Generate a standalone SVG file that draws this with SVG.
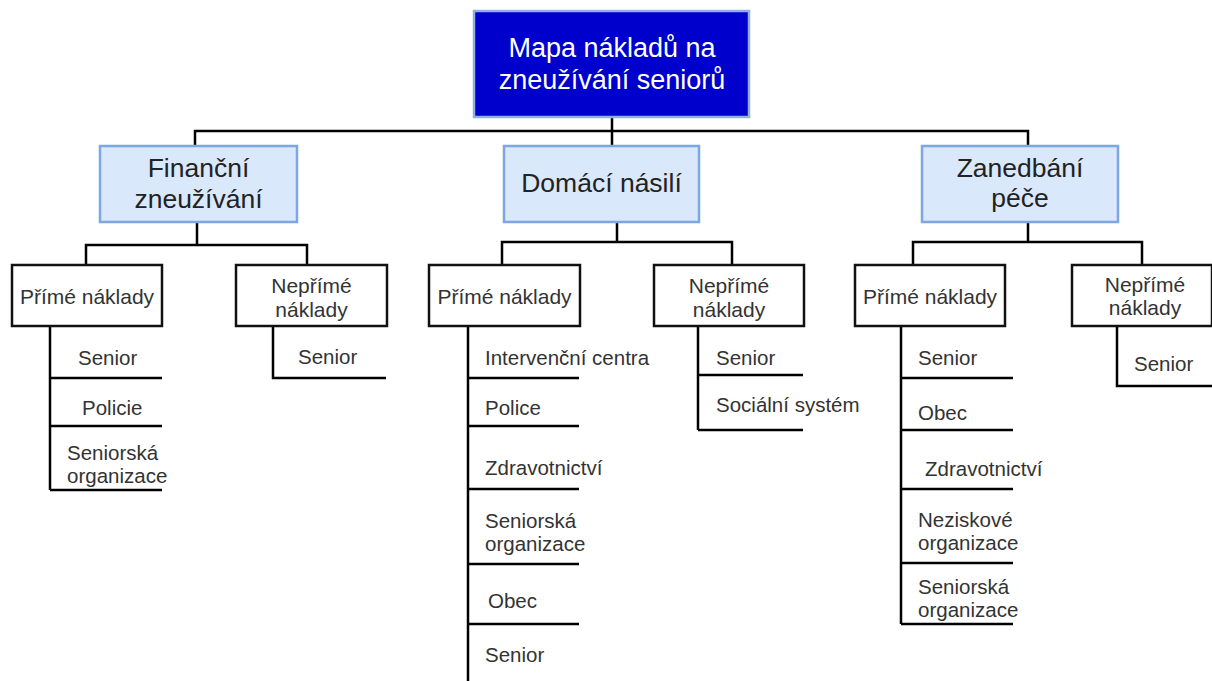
<svg xmlns="http://www.w3.org/2000/svg" width="1212" height="681" viewBox="0 0 1212 681">
<style>
text{font-family:"Liberation Sans",Arial,sans-serif;}
.root{fill:#0000CC;stroke:#8fb0e6;stroke-width:2.5;}
.rt{fill:#ffffff;font-size:27px;text-anchor:middle;}
.l1{fill:#dae8fc;stroke:#7ea6e0;stroke-width:2.5;}
.t1{fill:#222222;font-size:26.5px;text-anchor:middle;}
.l2{fill:#ffffff;stroke:#111111;stroke-width:2.5;}
.t2{fill:#333333;font-size:21px;text-anchor:middle;}
.lf{fill:#333333;font-size:20.5px;}
.c{fill:none;stroke:#000000;stroke-width:2.5;}
</style>
<rect width="1212" height="681" fill="#ffffff"/>
<g id="connectors">
<path class="c" d="M612 117V146M195 146V131H1028V146"/>
<path class="c" d="M197 222V245M86 265V245H307V265"/>
<path class="c" d="M617 222V242M502 265V242H732V265"/>
<path class="c" d="M1028 222V242M913 265V242H1142V265"/>
<path class="c" d="M50 326V490M50 378H162M50 426H162M50 490H162"/>
<path class="c" d="M273 326V378H386"/>
<path class="c" d="M468 326V681M468 378H579M468 426H579M468 489H579M468 564H579M468 624H579"/>
<path class="c" d="M698 326V430M698 375H803M698 430H803"/>
<path class="c" d="M901 326V624M901 378H1013M901 430H1013M901 489H1013M901 563H1013M901 624H1013"/>
<path class="c" d="M1117 326V386H1212"/>
</g>
<g id="root">
<rect class="root" x="474" y="11" width="275" height="106"/>
<text class="rt" x="612" y="57">Mapa nákladů na</text>
<text class="rt" x="612" y="89">zneužívání seniorů</text>
</g>
<g id="financni">
<rect class="l1" x="100" y="146" width="197" height="76"/>
<text class="t1" x="198.5" y="177">Finanční</text>
<text class="t1" x="198.5" y="208">zneužívání</text>
</g>
<g id="domaci">
<rect class="l1" x="504" y="146" width="195" height="76"/>
<text class="t1" x="601.5" y="192">Domácí násilí</text>
</g>
<g id="zanedbani">
<rect class="l1" x="922" y="146" width="196" height="76"/>
<text class="t1" x="1020" y="177">Zanedbání</text>
<text class="t1" x="1020" y="207">péče</text>
</g>
<g id="f-prime">
<rect class="l2" x="12" y="265" width="150" height="61"/>
<text class="t2" x="87" y="304">Přímé náklady</text>
</g>
<g id="f-neprime">
<rect class="l2" x="236" y="265" width="151" height="61"/>
<text class="t2" x="311.5" y="293">Nepřímé</text>
<text class="t2" x="311.5" y="317">náklady</text>
</g>
<g id="d-prime">
<rect class="l2" x="429" y="265" width="151" height="61"/>
<text class="t2" x="504.5" y="304">Přímé náklady</text>
</g>
<g id="d-neprime">
<rect class="l2" x="654" y="265" width="150" height="61"/>
<text class="t2" x="729" y="293">Nepřímé</text>
<text class="t2" x="729" y="317">náklady</text>
</g>
<g id="z-prime">
<rect class="l2" x="855" y="265" width="150" height="61"/>
<text class="t2" x="930" y="304">Přímé náklady</text>
</g>
<g id="z-neprime">
<rect class="l2" x="1072" y="265" width="140" height="61"/>
<text class="t2" x="1145" y="292">Nepřímé</text>
<text class="t2" x="1145" y="315">náklady</text>
</g>
<g id="f-prime-leaves">
<text class="lf" x="78" y="365">Senior</text>
<text class="lf" x="82" y="415">Policie</text>
<text class="lf" x="67" y="460">Seniorská</text>
<text class="lf" x="67" y="483">organizace</text>
</g>
<g id="f-neprime-leaves">
<text class="lf" x="298" y="364">Senior</text>
</g>
<g id="d-prime-leaves">
<text class="lf" x="485" y="365">Intervenční centra</text>
<text class="lf" x="485" y="415">Police</text>
<text class="lf" x="485" y="475">Zdravotnictví</text>
<text class="lf" x="485" y="528">Seniorská</text>
<text class="lf" x="485" y="551">organizace</text>
<text class="lf" x="488" y="608">Obec</text>
<text class="lf" x="485" y="662">Senior</text>
</g>
<g id="d-neprime-leaves">
<text class="lf" x="716" y="365">Senior</text>
<text class="lf" x="716" y="412">Sociální systém</text>
</g>
<g id="z-prime-leaves">
<text class="lf" x="918" y="365">Senior</text>
<text class="lf" x="918" y="420">Obec</text>
<text class="lf" x="925" y="476">Zdravotnictví</text>
<text class="lf" x="918" y="527">Neziskové</text>
<text class="lf" x="918" y="550">organizace</text>
<text class="lf" x="918" y="594">Seniorská</text>
<text class="lf" x="918" y="617">organizace</text>
</g>
<g id="z-neprime-leaves">
<text class="lf" x="1134" y="371">Senior</text>
</g>
</svg>
